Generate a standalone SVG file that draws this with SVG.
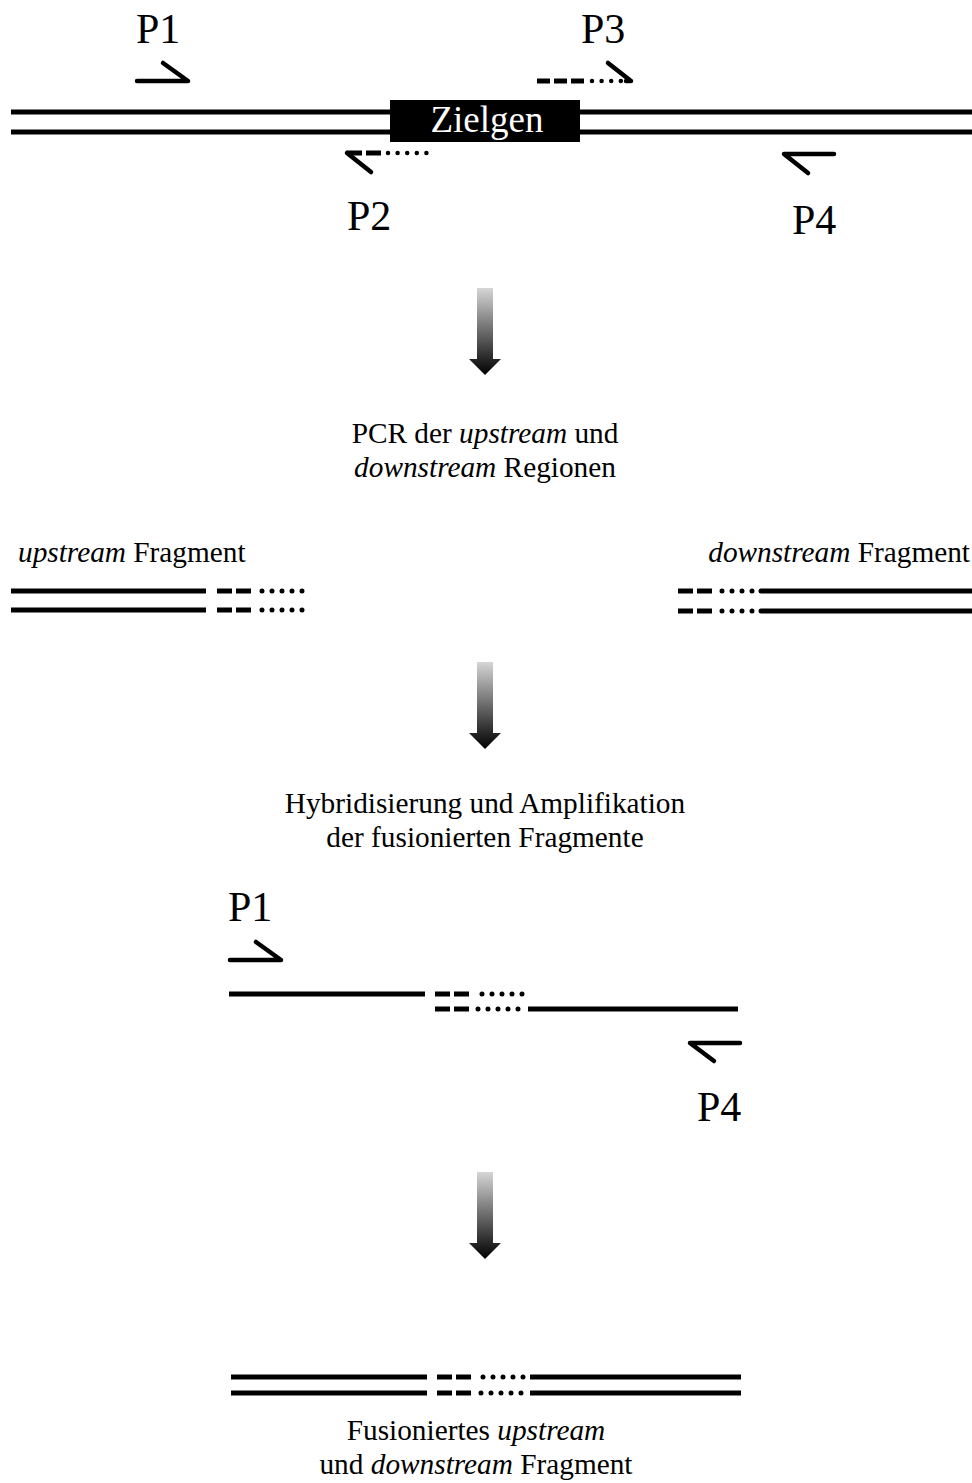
<svg xmlns="http://www.w3.org/2000/svg" width="972" height="1483" viewBox="0 0 972 1483">
<style>
text{font-family:"Liberation Serif","Times New Roman",serif;fill:#000}
.lbl{font-size:42px}
.cap{font-size:29.3px}
.it{font-style:italic}
.s{stroke:#000;stroke-width:5;fill:none}
.p{stroke:#000;stroke-width:4.5;fill:none;stroke-linecap:round;stroke-linejoin:round}
.d{stroke:#000;stroke-width:5;fill:none}
.dot{stroke:#000;stroke-width:5;fill:none;stroke-linecap:round;stroke-dasharray:0 10}
.pd{stroke:#000;stroke-width:4.5;fill:none;stroke-linecap:round;stroke-dasharray:0 9.6}
</style>
<defs>
<linearGradient id="g" x1="0" y1="0" x2="0" y2="1">
<stop offset="0" stop-color="#d6d6d6"/>
<stop offset="0.8" stop-color="#2a2a2a"/>
<stop offset="1" stop-color="#000"/>
</linearGradient>
<path id="arr" d="M477,0 H493 V71 H501 L485,87 L469,71 H477 Z" fill="url(#g)"/>
</defs>

<g id="genome">
<line class="s" x1="11" y1="112" x2="972" y2="112"/>
<line class="s" x1="11" y1="132" x2="972" y2="132"/>
<rect x="390" y="100" width="190" height="42" fill="#000"/>
<text x="487" y="132" font-size="37" text-anchor="middle" style="fill:#fff">Zielgen</text>
</g>

<g id="primer-P1">
<polyline class="p" points="137,81 188,81 163,63"/>
<text class="lbl" x="136" y="43">P1</text>
</g>
<g id="primer-P2">
<line class="d" x1="347" y1="153" x2="381" y2="153" stroke-dasharray="15 4"/>
<line class="pd" x1="388" y1="153" x2="428" y2="153"/>
<line class="p" x1="347" y1="153" x2="371" y2="172"/>
<text class="lbl" x="347" y="230">P2</text>
</g>
<g id="primer-P3">
<line class="d" x1="537" y1="81" x2="584" y2="81" stroke-dasharray="13 4"/>
<line class="pd" x1="592" y1="81" x2="623" y2="81"/>
<polyline class="p" points="626,81 631,81 608,63"/>
<text class="lbl" x="581" y="43">P3</text>
</g>
<g id="primer-P4">
<polyline class="p" points="834,154 784,154 808,173"/>
<text class="lbl" x="792" y="234">P4</text>
</g>

<g id="arrows">
<use href="#arr" y="288"/>
<use href="#arr" y="662"/>
<use href="#arr" y="1172"/>
</g>

<g id="step1-label">
<text class="cap" x="485" y="443" text-anchor="middle">PCR der <tspan class="it">upstream</tspan> und</text>
<text class="cap" x="485" y="477" text-anchor="middle"><tspan class="it">downstream</tspan> Regionen</text>
</g>

<g id="upstream-fragment">
<text class="cap" x="18" y="562"><tspan class="it">upstream</tspan> Fragment</text>
<line class="s" x1="11" y1="591" x2="206" y2="591"/>
<line class="s" x1="11" y1="610" x2="206" y2="610"/>
<line class="d" x1="217" y1="591" x2="251" y2="591" stroke-dasharray="15 4"/>
<line class="d" x1="217" y1="610" x2="251" y2="610" stroke-dasharray="15 4"/>
<line class="dot" x1="262" y1="591" x2="303" y2="591"/>
<line class="dot" x1="262" y1="610" x2="303" y2="610"/>
</g>

<g id="downstream-fragment">
<text class="cap" x="970" y="562" text-anchor="end"><tspan class="it">downstream</tspan> Fragment</text>
<line class="d" x1="678" y1="591" x2="712" y2="591" stroke-dasharray="15 4"/>
<line class="d" x1="678" y1="611" x2="712" y2="611" stroke-dasharray="15 4"/>
<line class="dot" x1="722" y1="591" x2="753" y2="591"/>
<line class="dot" x1="722" y1="611" x2="753" y2="611"/>
<line class="s" x1="761" y1="591" x2="972" y2="591" stroke-linecap="round"/>
<line class="s" x1="761" y1="611" x2="972" y2="611" stroke-linecap="round"/>
</g>

<g id="step2-label">
<text class="cap" x="485" y="813" text-anchor="middle">Hybridisierung und Amplifikation</text>
<text class="cap" x="485" y="847" text-anchor="middle">der fusionierten Fragmente</text>
</g>

<g id="hybrid">
<line class="s" x1="229" y1="994" x2="425" y2="994"/>
<line class="d" x1="435" y1="994" x2="469" y2="994" stroke-dasharray="15 4"/>
<line class="dot" x1="482" y1="994" x2="523" y2="994"/>
<line class="d" x1="435" y1="1009" x2="469" y2="1009" stroke-dasharray="15 4"/>
<line class="dot" x1="478" y1="1009" x2="519" y2="1009"/>
<line class="s" x1="528" y1="1009" x2="738" y2="1009"/>
</g>
<g id="hybrid-P1">
<polyline class="p" points="230,960 281,960 256,942"/>
<text class="lbl" x="228" y="921">P1</text>
</g>
<g id="hybrid-P4">
<polyline class="p" points="740,1043 690,1043 714,1061"/>
<text class="lbl" x="697" y="1121">P4</text>
</g>

<g id="fused">
<line class="s" x1="231" y1="1377" x2="427" y2="1377"/>
<line class="s" x1="231" y1="1393" x2="427" y2="1393"/>
<line class="d" x1="437" y1="1377" x2="471" y2="1377" stroke-dasharray="15 4"/>
<line class="d" x1="437" y1="1393" x2="471" y2="1393" stroke-dasharray="15 4"/>
<line class="dot" x1="483" y1="1377" x2="524" y2="1377"/>
<line class="dot" x1="481" y1="1393" x2="522" y2="1393"/>
<line class="s" x1="530" y1="1377" x2="741" y2="1377"/>
<line class="s" x1="530" y1="1393" x2="741" y2="1393"/>
<text class="cap" x="476" y="1440" text-anchor="middle">Fusioniertes <tspan class="it">upstream</tspan></text>
<text class="cap" x="476" y="1474" text-anchor="middle">und <tspan class="it">downstream</tspan> Fragment</text>
</g>
</svg>
